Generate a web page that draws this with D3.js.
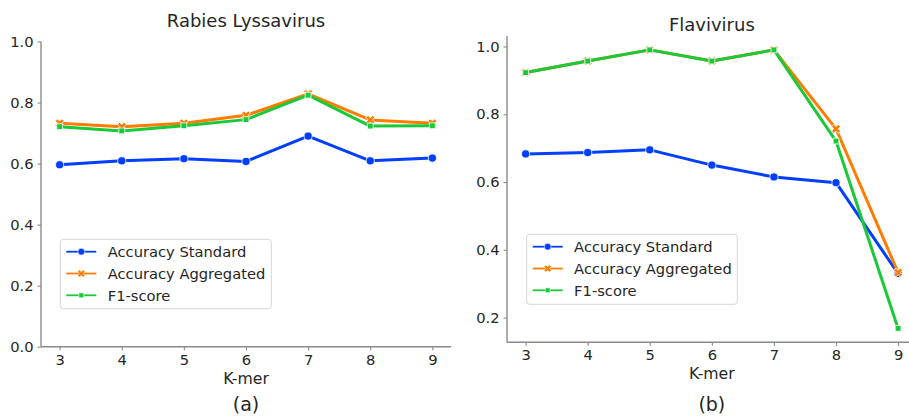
<!DOCTYPE html>
<html>
<head>
<meta charset="utf-8">
<script src="https://cdn.jsdelivr.net/npm/d3@7"></script>
<style>
  html, body { margin: 0; padding: 0; background: #ffffff; }
  svg { display: block; font-family: "DejaVu Sans", sans-serif; }
</style>
</head>
<body>
<svg id="chart" width="909" height="417"></svg>
<script>
// K-mer sizes on the x axis
const kmers = [3, 4, 5, 6, 7, 8, 9];

// Rabies Lyssavirus scores
const rabiesStandard   = [0.596, 0.609, 0.616, 0.607, 0.690, 0.609, 0.618];
const rabiesAggregated = [0.732, 0.721, 0.732, 0.758, 0.828, 0.743, 0.732];
const rabiesF1         = [0.721, 0.707, 0.724, 0.744, 0.824, 0.723, 0.724];

// Flavivirus scores
const flaviStandard   = [0.683, 0.687, 0.695, 0.650, 0.615, 0.598, 0.330];
const flaviAggregated = [0.923, 0.957, 0.990, 0.957, 0.990, 0.757, 0.333];
const flaviF1         = [0.923, 0.957, 0.990, 0.957, 0.990, 0.721, 0.168];

const seriesNames = ["Accuracy Standard", "Accuracy Aggregated", "F1-score"];
const rabiesYTicks = [0.0, 0.2, 0.4, 0.6, 0.8, 1.0];
const flaviYTicks  = [0.2, 0.4, 0.6, 0.8, 1.0];
const panelTitles  = ["Rabies Lyssavirus", "Flavivirus"];
const panelCaptions = ["(a)", "(b)"];
const xLabel = "K-mer";

const colors = ["#023eff", "#ff7c00", "#1ac938"];
const symbols = [
  { type: d3.symbolCircle, size: 52, rotate: 0 },
  { type: d3.symbolCross,  size: 50, rotate: 45 },
  { type: d3.symbolSquare, size: 34, rotate: 0 }
];
const textColor = "#262626";
const spineColor = "#8a8a8a";

const svg = d3.select("#chart");

function drawPanel(p) {
  const g = svg.append("g");
  const x = d3.scaleLinear().domain([2.7, 9.3]).range([p.left, p.right]);
  const y = d3.scaleLinear().domain(p.yDomain).range([p.bottom, p.top]);

  // axes
  const yAxis = d3.axisLeft(y).tickValues(p.yTicks).tickFormat(d3.format(".1f"))
    .tickSize(3.5).tickSizeOuter(0).tickPadding(4);
  const xAxis = d3.axisBottom(x).tickValues(kmers).tickFormat(d3.format("d"))
    .tickSize(3.5).tickSizeOuter(0).tickPadding(4);

  const ya = g.append("g").attr("transform", `translate(${p.left},0)`).call(yAxis);
  const xa = g.append("g").attr("transform", `translate(0,${p.bottom})`).call(xAxis);
  [ya, xa].forEach(a => {
    a.select(".domain").attr("stroke", spineColor).attr("stroke-width", 1.4);
    a.selectAll(".tick line").attr("stroke", spineColor).attr("stroke-width", 1.1);
    a.selectAll(".tick text").attr("fill", textColor)
      .style("font-family", "DejaVu Sans").style("font-size", "14.7px");
  });
  ya.select(".domain").attr("d", `M0,${p.top}V${p.bottom}`);
  xa.select(".domain").attr("d", `M${p.left},0H${p.right}`);

  // series lines and markers
  const line = d3.line().x((d, i) => x(kmers[i])).y(d => y(d));
  p.series.forEach((vals, si) => {
    g.append("path").datum(vals)
      .attr("d", line)
      .attr("fill", "none")
      .attr("stroke", colors[si])
      .attr("stroke-width", 3)
      .attr("stroke-linejoin", "round")
      .attr("stroke-linecap", "round");
    const sym = d3.symbol().type(symbols[si].type).size(symbols[si].size);
    g.selectAll(null).data(vals).enter().append("path")
      .attr("d", sym)
      .attr("transform", (d, i) => `translate(${x(kmers[i])},${y(d)}) rotate(${symbols[si].rotate})`)
      .attr("fill", colors[si])
      .attr("stroke", "#ffffff")
      .attr("stroke-width", 0.8);
  });

  // title
  g.append("text")
    .attr("x", (p.left + p.right) / 2).attr("y", p.titleY)
    .attr("text-anchor", "middle").attr("fill", textColor)
    .style("font-size", "18px").text(p.title);

  // x axis label
  g.append("text")
    .attr("x", (p.left + p.right) / 2).attr("y", p.xLabelY)
    .attr("text-anchor", "middle").attr("fill", textColor)
    .style("font-size", "15.7px").text(xLabel);

  // caption
  g.append("text")
    .attr("x", (p.left + p.right) / 2).attr("y", p.captionY)
    .attr("text-anchor", "middle").attr("fill", textColor)
    .style("font-size", "19px").text(p.caption);

  // legend
  const lg = g.append("g");
  lg.append("rect")
    .attr("x", p.legend.x).attr("y", p.legend.y)
    .attr("width", p.legend.w).attr("height", p.legend.h)
    .attr("rx", 3).attr("ry", 3)
    .attr("fill", "#ffffff").attr("fill-opacity", 0.8)
    .attr("stroke", "#d6d6d6").attr("stroke-width", 1);
  seriesNames.forEach((name, si) => {
    const cy = p.legend.y + 12.4 + si * 21.8;
    const lx0 = p.legend.x + 6, lx1 = p.legend.x + 36;
    lg.append("line")
      .attr("x1", lx0).attr("x2", lx1).attr("y1", cy).attr("y2", cy)
      .attr("stroke", colors[si]).attr("stroke-width", 1.8);
    const sym = d3.symbol().type(symbols[si].type).size(symbols[si].size * 0.7);
    lg.append("path")
      .attr("d", sym)
      .attr("transform", `translate(${(lx0 + lx1) / 2},${cy}) rotate(${symbols[si].rotate})`)
      .attr("fill", colors[si]).attr("stroke", "#ffffff").attr("stroke-width", 0.6);
    lg.append("text")
      .attr("x", p.legend.x + 47.4).attr("y", cy + 5.2)
      .attr("fill", textColor)
      .style("font-size", "14.7px").text(name);
  });
}

drawPanel({
  left: 41, right: 451, top: 41.5, bottom: 346.7,
  yDomain: [0, 1], yTicks: rabiesYTicks,
  series: [rabiesStandard, rabiesAggregated, rabiesF1],
  title: panelTitles[0], titleY: 26.5,
  xLabelY: 384.3, captionY: 411,
  caption: panelCaptions[0],
  legend: { x: 60.3, y: 239.3, w: 211, h: 69.4 }
});

drawPanel({
  left: 507, right: 916.7, top: 36, bottom: 342.3,
  yDomain: [0.127, 1.031], yTicks: flaviYTicks,
  series: [flaviStandard, flaviAggregated, flaviF1],
  title: panelTitles[1], titleY: 30.6,
  xLabelY: 379.3, captionY: 410.5,
  caption: panelCaptions[1],
  legend: { x: 526.7, y: 234.3, w: 210.6, h: 70 }
});
</script>
</body>
</html>
